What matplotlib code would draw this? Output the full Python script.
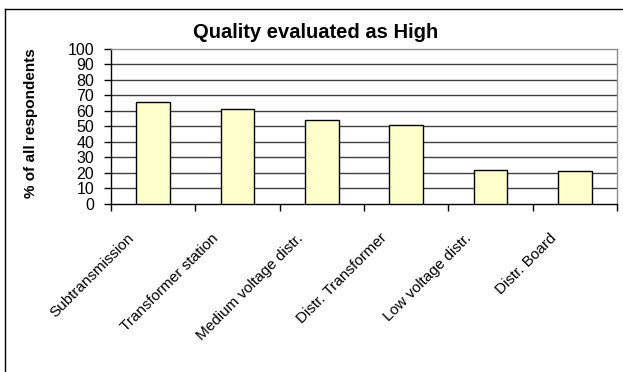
import matplotlib
matplotlib.use("Agg")
import matplotlib.pyplot as plt
import matplotlib.transforms as mtransforms
import numpy as np
from matplotlib.lines import Line2D

plt.rcParams['font.family'] = ['Liberation Sans', 'DejaVu Sans']

categories = ['Subtransmission', 'Transformer station', 'Medium voltage distr.',
              'Distr. Transformer', 'Low voltage distr.', 'Distr. Board']
high_pct = [66, 61, 54, 51, 22, 21]
y_ticks = list(range(0, 101, 10))

fig = plt.figure(figsize=(6.23, 3.72), dpi=100)
ax = fig.add_axes([111 / 623, 1 - 204 / 372, 506 / 623, 155 / 372])

x = np.arange(len(categories))
ax.bar(x, high_pct, width=0.4, color='#FFFFCC', edgecolor='black',
       linewidth=1.0, zorder=3)

ax.set_xlim(-0.5, len(categories) - 0.5)
ax.set_ylim(0, 100)
ax.set_yticks(y_ticks)
ax.tick_params(axis='y', direction='out', length=5, width=1, pad=7,
               labelsize=11.5, colors='black')
for yv in y_ticks[1:-1]:
    ax.axhline(yv, color='#404040', linewidth=1.0, zorder=1)

# category labels sit on major ticks, tick marks go between categories
ax.set_xticks(x)
ax.set_xticklabels(categories, rotation=45, ha='right', va='center',
                   rotation_mode='anchor', fontsize=11)
ax.tick_params(axis='x', which='major', length=0, pad=0)
shift = mtransforms.ScaledTranslation(-0.21, -0.32, fig.dpi_scale_trans)
for lbl in ax.get_xticklabels():
    lbl.set_transform(lbl.get_transform() + shift)
ax.set_xticks(np.arange(-0.5, len(categories), 1.0), minor=True)
ax.tick_params(axis='x', which='minor', direction='out', length=5, width=1)

ax.spines['left'].set_color('black')
ax.spines['bottom'].set_color('black')
ax.spines['top'].set_color('#909090')
ax.spines['right'].set_color('#909090')
for s in ax.spines.values():
    s.set_linewidth(1.0)

ax.set_ylabel('% of all respondents', fontsize=11, fontweight='bold')
ax.yaxis.set_label_coords((38 - 111) / 506, (204 - 123.5) / 155)
fig.text(315.5 / 623, 1 - 33 / 372, 'Quality evaluated as High',
         ha='center', va='center', fontsize=14.5, fontweight='bold')

# outer chart frame (left and top edges)
fig.add_artist(Line2D([4.5 / 623, 4.5 / 623], [0, 1 - 8.5 / 372],
                      color='black', linewidth=1.0))
fig.add_artist(Line2D([4.5 / 623, 1], [1 - 8.5 / 372, 1 - 8.5 / 372],
                      color='black', linewidth=1.0))

fig.savefig('out.png', dpi=100)
